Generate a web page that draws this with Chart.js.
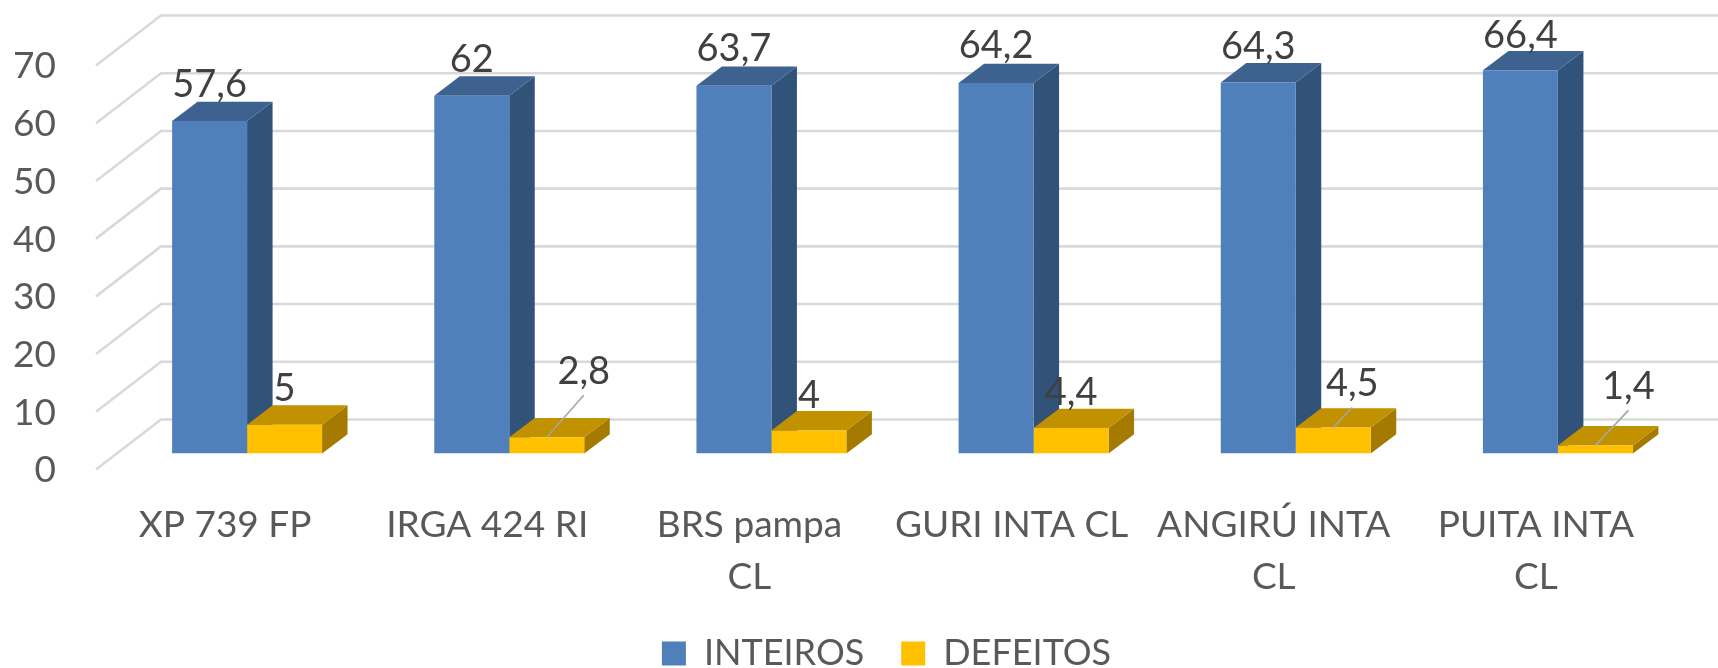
<!DOCTYPE html>
<html>
<head>
<meta charset="utf-8">
<style>
html,body{margin:0;padding:0;background:#fff;overflow:hidden}
#wrap{position:relative;width:1718px;height:668px}
</style>
<script src="https://cdn.jsdelivr.net/npm/chart.js@4"></script>
</head>
<body>
<div id="wrap"><canvas id="c" width="1718" height="668"></canvas></div>
<script>
const categories = [
  ["XP 739 FP"],
  ["IRGA 424 RI"],
  ["BRS pampa", "CL"],
  ["GURI INTA CL"],
  ["ANGIRÚ INTA", "CL"],
  ["PUITA INTA", "CL"]
];
const inteiros = [57.6, 62, 63.7, 64.2, 64.3, 66.4];
const defeitos = [5, 2.8, 4, 4.4, 4.5, 1.4];
const seriesNames = ["INTEIROS", "DEFEITOS"];

// Appearance only: where each value label sits relative to its bar's front face
const labelShift = [
  [[0, -36], [0, -36]],
  [[0, -36], [37, -66]],
  [[0, -37], [0, -35]],
  [[0, -37], [0, -35]],
  [[0, -36], [19, -44]],
  [[0, -35], [33, -59]]
];
const leaderSeries1 = [false, true, false, false, true, true];

const FONT = '38px Lato';
const DEPTH_X = 25.5, DEPTH_Y = 19.3;
const WALL = {frontX: 96, backX: 161, frontDY: 16, backDY: -34};
const faces = [
  {front: '#4F80BC', top: '#3D628F', side: '#315279'},
  {front: '#FFC000', top: '#C19100', side: '#A47B00'}
];

function poly(ctx, pts, fill) {
  ctx.beginPath();
  pts.forEach((p, i) => i ? ctx.lineTo(p[0], p[1]) : ctx.moveTo(p[0], p[1]));
  ctx.closePath();
  ctx.fillStyle = fill;
  ctx.fill();
}

const scene3d = {
  id: 'scene3d',
  beforeDraw(chart) {
    // Tick labels sit left of the narrow axis box; widen its clip area to the canvas edge
    chart.scales.y.left = 0;
  },
  beforeDatasetsDraw(chart) {
    const ctx = chart.ctx, y = chart.scales.y;
    ctx.save();
    // Walls: floor-to-back gridlines at every tick of the value axis
    ctx.strokeStyle = '#D9D9D9';
    ctx.lineWidth = 2.6;
    ctx.lineJoin = 'miter';
    y.ticks.forEach(t => {
      const p = y.getPixelForValue(t.value);
      ctx.beginPath();
      ctx.moveTo(WALL.frontX, p + WALL.frontDY);
      ctx.lineTo(WALL.backX, p + WALL.backDY);
      ctx.lineTo(chart.width, p + WALL.backDY);
      ctx.stroke();
    });
    // Extrusion of each bar, taken from the bar elements themselves
    chart.data.datasets.forEach((ds, di) => {
      const f = faces[di];
      chart.getDatasetMeta(di).data.forEach(bar => {
        const l = bar.x - bar.width / 2, r = bar.x + bar.width / 2;
        const t = bar.y, b = bar.base;
        poly(ctx, [[r, t], [r + DEPTH_X, t - DEPTH_Y], [r + DEPTH_X, b - DEPTH_Y], [r, b]], f.side);
        poly(ctx, [[l, t], [l + DEPTH_X, t - DEPTH_Y], [r + DEPTH_X, t - DEPTH_Y], [r, t]], f.top);
      });
    });
    ctx.restore();
  },
  afterDatasetsDraw(chart) {
    const ctx = chart.ctx;
    ctx.save();
    ctx.font = FONT;
    ctx.textAlign = 'center';
    ctx.textBaseline = 'middle';
    chart.data.datasets.forEach((ds, di) => {
      chart.getDatasetMeta(di).data.forEach((bar, i) => {
        const [dx, dy] = labelShift[i][di];
        const lx = bar.x + dx, ly = bar.y + dy;
        if (di === 1 && leaderSeries1[i]) {
          ctx.strokeStyle = '#A6A6A6';
          ctx.lineWidth = 1.6;
          ctx.beginPath();
          ctx.moveTo(lx, ly + 24);
          ctx.lineTo(bar.x, bar.y);
          ctx.stroke();
        }
        ctx.fillStyle = '#404040';
        ctx.fillText(String(ds.data[i]).replace('.', ','), lx, ly);
      });
    });
    ctx.restore();
  }
};

function noMargins(s) {
  s.paddingTop = 0; s.paddingBottom = 0; s.paddingLeft = 0; s.paddingRight = 0;
}

Chart.defaults.font.family = 'Lato';
new Chart(document.getElementById('c'), {
  type: 'bar',
  data: {
    labels: categories,
    datasets: [
      {label: seriesNames[0], data: inteiros, backgroundColor: faces[0].front},
      {label: seriesNames[1], data: defeitos, backgroundColor: faces[1].front}
    ]
  },
  plugins: [scene3d],
  options: {
    responsive: false,
    animation: false,
    events: [],
    layout: {padding: {top: 49.5, left: 84, right: 29, bottom: -13.5}},
    datasets: {bar: {categoryPercentage: 0.572, barPercentage: 1, borderWidth: 0}},
    scales: {
      x: {
        grid: {display: false},
        border: {display: false},
        afterFit(s) { s.height = 145; noMargins(s); },
        ticks: {
          autoSkip: false, maxRotation: 0, minRotation: 0,
          labelOffset: -22,
          padding: 38,
          color: '#595959',
          font: {family: 'Lato', size: 37, lineHeight: 1.4}
        }
      },
      y: {
        min: 0, max: 70,
        grid: {display: false},
        border: {display: false},
        afterFit(s) { s.width = 32; noMargins(s); },
        ticks: {
          stepSize: 10,
          padding: 52,
          labelOffset: 17,
          color: '#595959',
          font: {family: 'Lato', size: 37}
        }
      }
    },
    plugins: {
      tooltip: {enabled: false},
      title: {display: false},
      legend: {
        position: 'bottom',
        labels: {
          boxWidth: 24, boxHeight: 24, padding: 37,
          color: '#595959',
          font: {family: 'Lato', size: 36}
        }
      }
    }
  }
});
</script>
</body>
</html>
